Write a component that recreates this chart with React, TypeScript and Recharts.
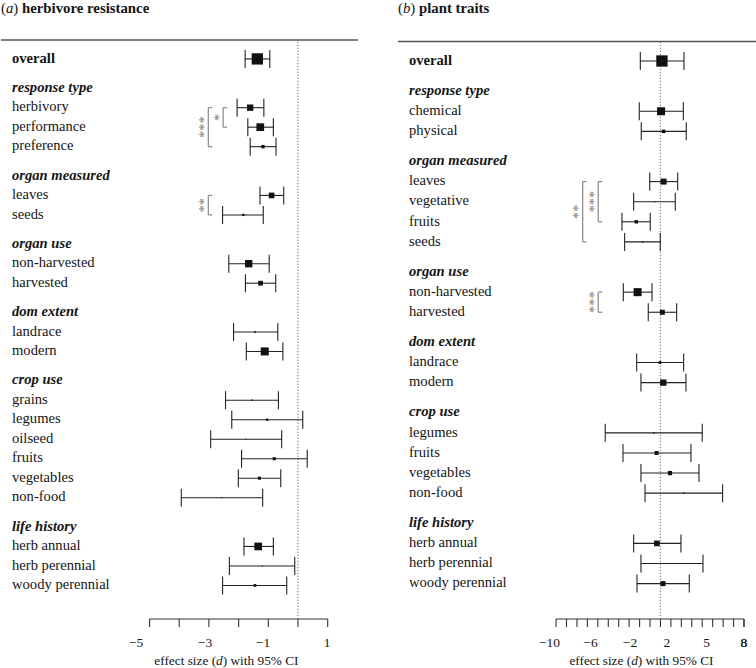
import React from "react";
import { ScatterChart, Scatter, XAxis, YAxis, ErrorBar, ReferenceLine, ReferenceDot } from "recharts";

const FONT = '"Liberation Serif", "Times New Roman", Times, serif';

// ---------- Panel (a) herbivore resistance ----------
const aGroupNames = ["", "response type", "organ measured", "organ use", "dom extent", "crop use", "life history"];
const aGroupSizes = [1, 3, 2, 2, 2, 6, 3];
const aCategories = [
  "overall", "herbivory", "performance", "preference", "leaves", "seeds",
  "non-harvested", "harvested", "landrace", "modern",
  "grains", "legumes", "oilseed", "fruits", "vegetables", "non-food",
  "herb annual", "herb perennial", "woody perennial",
];
const aEffect = [-1.37, -1.61, -1.27, -1.18, -0.89, -1.84, -1.66, -1.26, -1.44, -1.12, -1.55, -1.04, -1.75, -0.8, -1.3, -2.57, -1.34, -1.2, -1.45];
const aLower = [-1.78, -2.05, -1.69, -1.61, -1.28, -2.54, -2.33, -1.77, -2.17, -1.74, -2.44, -2.23, -2.94, -1.9, -2.01, -3.93, -1.82, -2.31, -2.54];
const aUpper = [-0.95, -1.15, -0.83, -0.74, -0.48, -1.17, -0.97, -0.75, -0.68, -0.51, -0.66, 0.16, -0.55, 0.31, -0.58, -1.19, -0.83, -0.11, -0.38];
const aWeight = [100, 56, 68, 30, 50, 20, 65, 42, 15, 71, 13, 20, 9, 27, 27, 9, 68, 9, 24];
const aTicks = [-5, -4, -3, -2, -1, 0, 1];
const aTickLabels = ["\u22125", "\u22123", "\u22121", "1"];
const aTickLabelAt = [-5.45, -3.13, -1.18, 0.98];
const aBracketFrom = ["herbivory", "herbivory", "leaves"];
const aBracketTo = ["performance", "preference", "seeds"];
const aBracketStars = ["*", "***", "**"];
const aBracketAt = [-2.52, -3.02, -3.02];

// ---------- Panel (b) plant traits ----------
const bGroupNames = ["", "response type", "organ measured", "organ use", "dom extent", "crop use", "life history"];
const bGroupSizes = [1, 2, 4, 2, 2, 4, 3];
const bCategories = [
  "overall", "chemical", "physical", "leaves", "vegetative", "fruits", "seeds",
  "non-harvested", "harvested", "landrace", "modern",
  "legumes", "fruits", "vegetables", "non-food",
  "herb annual", "herb perennial", "woody perennial",
];
const bEffect = [0.14, 0.06, 0.3, 0.3, -0.55, -2.32, -1.71, -2.19, 0.18, -0.05, 0.27, -0.62, -0.37, 0.91, 2.22, -0.34, 1.1, 0.24];
const bLower = [-1.93, -2.03, -1.84, -1.03, -2.57, -3.69, -3.43, -3.56, -1.17, -2.28, -1.87, -5.29, -3.59, -1.87, -1.48, -2.57, -1.87, -2.25];
const bUpper = [2.25, 2.19, 2.47, 1.65, 1.42, -0.98, -0.02, -0.81, 1.55, 2.22, 2.44, 4.0, 2.92, 3.69, 5.95, 1.96, 4.07, 2.76];
const bWeight = [100, 71, 31, 53, 9, 30, 13, 71, 44, 24, 56, 13, 35, 38, 13, 50, 9, 44];
const bTicks = [-10, -9, -8, -7, -6, -5, -4, -3, -2, -1, 0, 1, 2, 3, 4, 5, 6, 7, 8];
const bTickLabels = ["\u221210", "\u22126", "\u22122", "2", "5", "8"];
const bTickLabelAt = [-10.63, -6.7, -2.92, 0.62, 4.43, 8.0];
const bBracketFrom = ["leaves", "leaves", "non-harvested"];
const bBracketTo = ["fruits", "seeds", "harvested"];
const bBracketStars = ["***", "**", "***"];
const bBracketAt = [-5.96, -7.45, -5.96];

type Row = { pos: number; label: string; kind: "overall" | "header" | "item" };
type Pt = { x: number; y: number; err: [number, number]; w: number; label: string };

function buildRows(groupNames: string[], groupSizes: number[], cats: string[], eff: number[], lo: number[], hi: number[], wt: number[]) {
  const rows: Row[] = [];
  const pts: Pt[] = [];
  let pos = 0;
  let k = 0;
  groupNames.forEach((g, gi) => {
    if (gi > 0) {
      pos += 0.5;
      rows.push({ pos, label: g, kind: "header" });
      pos += 1;
    }
    for (let i = 0; i < groupSizes[gi]; i++) {
      rows.push({ pos, label: cats[k], kind: gi === 0 ? "overall" : "item" });
      pts.push({ x: eff[k], y: pos, err: [eff[k] - lo[k], hi[k] - eff[k]], w: wt[k], label: cats[k] });
      pos += 1;
      k++;
    }
  });
  return { rows, pts };
}

function buildBrackets(rows: Row[], from: string[], to: string[], stars: string[], at: number[]) {
  const find = (name: string) => rows.find((r) => r.kind !== "header" && r.label === name)!.pos;
  return from.map((f, i) => ({ y1: find(f), y2: find(to[i]), stars: stars[i], x: at[i] }));
}

const panelA = buildRows(aGroupNames, aGroupSizes, aCategories, aEffect, aLower, aUpper, aWeight);
const panelB = buildRows(bGroupNames, bGroupSizes, bCategories, bEffect, bLower, bUpper, bWeight);
const bracketsA = buildBrackets(panelA.rows, aBracketFrom, aBracketTo, aBracketStars, aBracketAt);
const bracketsB = buildBrackets(panelB.rows, bBracketFrom, bBracketTo, bBracketStars, bBracketAt);

const RowTick = (props: any) => {
  const { y, payload, rows, labelX } = props;
  const row = (rows as Row[]).find((r) => Math.abs(r.pos - payload.value) < 1e-6);
  if (!row) return <g />;
  return (
    <text
      x={labelX}
      y={y}
      dy={3.7}
      textAnchor="start"
      fontFamily={FONT}
      fontSize={14.6}
      fontWeight={row.kind === "item" ? "normal" : "bold"}
      fontStyle={row.kind === "header" ? "italic" : "normal"}
      fill="#151515"
    >
      {row.label}
    </text>
  );
};

// draws the tick mark for integer ticks and the text for labelled positions
const AxisTick = (props: any) => {
  const { x, y, payload, ticks, labels, at } = props;
  const v = payload.value;
  const isTick = (ticks as number[]).some((t) => Math.abs(t - v) < 1e-6);
  const li = (at as number[]).findIndex((t) => Math.abs(t - v) < 1e-6);
  return (
    <g>
      {isTick && <line x1={x} x2={x} y1={y} y2={y + 8} stroke="#333" strokeWidth={1.1} />}
      {li >= 0 && (
        <text x={x} y={y + 28} textAnchor="middle" fontFamily={FONT} fontSize={13.5} fill="#151515">
          {labels[li]}
        </text>
      )}
    </g>
  );
};

type PanelProps = {
  rows: Row[];
  pts: Pt[];
  brackets: { y1: number; y2: number; stars: string; x: number }[];
  domainX: [number, number];
  domainY: [number, number];
  ticks: number[];
  tickLabels: string[];
  tickLabelAt: number[];
  titleCenter: number;
  labelX: number;
  margin: { top: number; right: number; bottom: number; left: number };
};

function Panel(p: PanelProps) {
  const plotWidth = 378 - p.margin.left - p.margin.right - 1;
  const unitsPerPx = (p.domainX[1] - p.domainX[0]) / plotWidth;
  const capLen = 4 * unitsPerPx;
  const allTicks = [...p.ticks, ...p.tickLabelAt].sort((a, b) => a - b);
  const AxisTitle = (lp: any) => {
    const vb = lp.viewBox || {};
    const cx = vb.x + ((p.titleCenter - p.domainX[0]) / (p.domainX[1] - p.domainX[0])) * vb.width;
    return (
      <text x={cx} y={vb.y + 46} textAnchor="middle" fontFamily={FONT} fontSize={13.3} fill="#151515" style={{ whiteSpace: "pre" }}>
        <tspan>effect size (</tspan>
        <tspan fontStyle="italic">d</tspan>
        <tspan>) with 95% CI</tspan>
      </text>
    );
  };
  return (
    <ScatterChart width={378} height={668} margin={p.margin}>
      <XAxis
        xAxisId="main"
        type="number"
        dataKey="x"
        domain={p.domainX}
        allowDataOverflow
        ticks={allTicks}
        interval={0}
        tickLine={false}
        tickSize={0}
        tickMargin={0}
        axisLine={false}
        height={49}
        tick={(tp: any) => <AxisTick {...tp} ticks={p.ticks} labels={p.tickLabels} at={p.tickLabelAt} />}
        label={{ content: AxisTitle }}
      />
      <YAxis
        type="number"
        dataKey="y"
        domain={p.domainY}
        reversed
        allowDataOverflow
        ticks={p.rows.map((r) => r.pos)}
        interval={0}
        width={1}
        axisLine={false}
        tickLine={false}
        tick={(tp: any) => <RowTick {...tp} rows={p.rows} labelX={p.labelX} />}
      />
      <ReferenceLine xAxisId="main" y={p.domainY[0]} stroke="#555" strokeWidth={1.3} ifOverflow="visible" />
      <ReferenceLine
        xAxisId="main"
        segment={[
          { x: p.ticks[0], y: p.domainY[1] },
          { x: p.ticks[p.ticks.length - 1], y: p.domainY[1] },
        ]}
        stroke="#333"
        strokeWidth={1.1}
        ifOverflow="visible"
      />
      <ReferenceLine xAxisId="main" x={0} stroke="#8a8a8a" strokeWidth={1.2} strokeDasharray="1.2 1.8" ifOverflow="visible" />
      {p.brackets.map((b, i) => (
        <ReferenceLine
          key={`bv${i}`}
          xAxisId="main"
          segment={[
            { x: b.x, y: b.y1 },
            { x: b.x, y: b.y2 },
          ]}
          stroke="#888"
          strokeWidth={1.2}
          ifOverflow="visible"
        />
      ))}
      {p.brackets.map((b, i) => (
        <ReferenceLine
          key={`bt${i}`}
          xAxisId="main"
          segment={[
            { x: b.x, y: b.y1 },
            { x: b.x + capLen, y: b.y1 },
          ]}
          stroke="#888"
          strokeWidth={1.2}
          ifOverflow="visible"
        />
      ))}
      {p.brackets.map((b, i) => (
        <ReferenceLine
          key={`bb${i}`}
          xAxisId="main"
          segment={[
            { x: b.x, y: b.y2 },
            { x: b.x + capLen, y: b.y2 },
          ]}
          stroke="#888"
          strokeWidth={1.2}
          ifOverflow="visible"
        />
      ))}
      {p.brackets.map((b, i) => (
        <ReferenceDot
          key={`bs${i}`}
          xAxisId="main"
          x={b.x}
          y={(b.y1 + b.y2) / 2}
          r={0}
          ifOverflow="visible"
          shape={(sp: any) => {
            const px = sp.cx + 0.5;
            const py = sp.cy;
            return (
              <text
                x={px}
                y={py}
                transform={`rotate(-90 ${px} ${py})`}
                textAnchor="middle"
                fontFamily={FONT}
                fontSize={14.5}
                fill="#808080"
              >
                {b.stars}
              </text>
            );
          }}
        />
      ))}
      <Scatter
        xAxisId="main"
        data={p.pts}
        isAnimationActive={false}
        shape={(sp: any) => {
          const s = Math.max(1, (sp.payload.w / 100) * 11.3);
          return <rect x={sp.cx - s / 2} y={sp.cy - s / 2} width={s} height={s} fill="#111" />;
        }}
      >
        <ErrorBar dataKey="err" direction="x" width={9} stroke="#222" strokeWidth={1.1} isAnimationActive={false} />
      </Scatter>
    </ScatterChart>
  );
}

export default function App() {
  return (
    <div style={{ position: "absolute", left: 0, top: 0, width: 756, height: 668, background: "#fff", overflow: "hidden" }}>
      <div style={{ position: "absolute", left: 0, top: 0 }}>
        <Panel
          rows={panelA.rows}
          pts={panelA.pts}
          brackets={bracketsA}
          domainX={[-10, 2.02]}
          domainY={[-0.97, 28.72]}
          ticks={aTicks}
          tickLabels={aTickLabels}
          tickLabelAt={aTickLabelAt}
          titleCenter={-2.41}
          labelX={12}
          margin={{ top: 40, right: 20, bottom: 0, left: 0 }}
        />
      </div>
      <div style={{ position: "absolute", left: 378, top: 0 }}>
        <Panel
          rows={panelB.rows}
          pts={panelB.pts}
          brackets={bracketsB}
          domainX={[-25.14, 9.15]}
          domainY={[-0.97, 27.76]}
          ticks={bTicks}
          tickLabels={bTickLabels}
          tickLabelAt={bTickLabelAt}
          titleCenter={-1.82}
          labelX={31}
          margin={{ top: 41.5, right: 0, bottom: 0, left: 19 }}
        />
      </div>
      <svg width={756} height={24} style={{ position: "absolute", left: 0, top: 0 }}>
        <text x={1} y={12.8} fontFamily={FONT} fontSize={14.8} fill="#151515" style={{ whiteSpace: "pre" }}>
          <tspan>(</tspan>
          <tspan fontStyle="italic">a</tspan>
          <tspan>) </tspan>
          <tspan fontWeight="bold">herbivore resistance</tspan>
        </text>
        <text x={398} y={12.8} fontFamily={FONT} fontSize={14.8} fill="#151515" style={{ whiteSpace: "pre" }}>
          <tspan>(</tspan>
          <tspan fontStyle="italic">b</tspan>
          <tspan>) </tspan>
          <tspan fontWeight="bold">plant traits</tspan>
        </text>
      </svg>
    </div>
  );
}
